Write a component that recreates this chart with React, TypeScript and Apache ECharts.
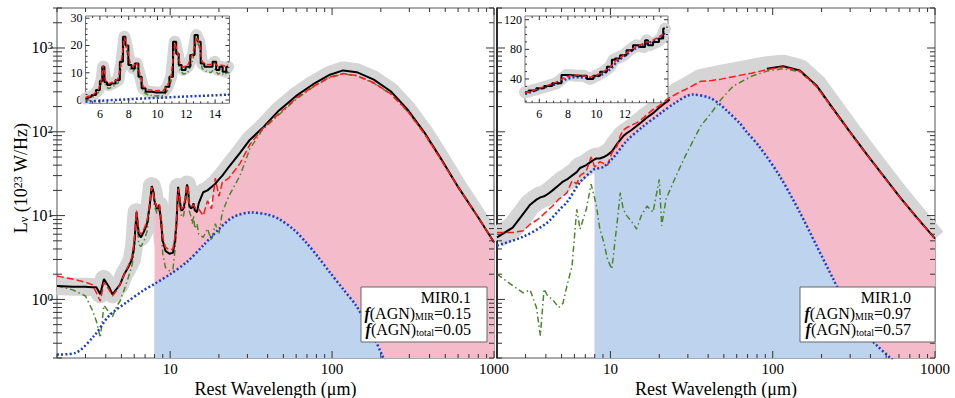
import React, { useEffect, useRef } from 'react';
import * as echarts from 'echarts';

const FONT = '"Liberation Serif", "Times New Roman", serif';

// ---------------- Left panel (MIR0.1) ----------------
const waveL = [2, 2.5, 3, 3.3, 3.5, 3.7, 3.9, 4.2, 4.4, 4.7,
  4.9, 5.2, 5.5, 5.8, 6.0, 6.2, 6.4, 6.6, 6.9, 7.2,
  7.5, 7.7, 7.9, 8.0, 8.3, 8.55, 8.8, 9.0, 9.35, 9.9,
  10.4, 10.7, 10.95, 11.2, 11.4, 11.6, 11.8, 12.1, 12.45, 12.7,
  12.9, 13.1, 13.4, 13.7, 13.95, 14.2, 14.65, 15, 16, 17,
  18, 19, 20, 21, 23, 27, 31, 37, 47, 60,
  76, 97, 117, 142, 181, 230, 292, 372, 473, 600, 800, 1000];
const obsL = [1.45, 1.42, 1.42, 1.4, 1.4, 1.15, 1.75, 1.4, 1.15, 1.35,
  1.5, 2.0, 2.4, 3.0, 4.5, 11, 6.0, 5.5, 6.5, 8,
  14, 22.5, 19, 15, 12, 13.4, 8.5, 5, 3.8, 3.5,
  3.6, 5, 8.5, 22, 17, 12.8, 11.5, 12.2, 16.5, 23.5,
  21, 13.4, 12.2, 12.5, 14, 11.5, 11, 14, 19, 20,
  22, 24, 27, 30, 38, 56, 80, 110, 180, 268,
  367, 480, 540, 515, 420, 305, 185, 98, 47, 22, 9.5, 4.8];
const modelL = [1.9, 1.75, 1.6, 1.5, 1.2, 0.95, 1.6, 1.3, 1.1, 1.3,
  1.5, 2.0, 2.5, 3.2, 5, 11.5, 6.5, 6.0, 7, 8.5,
  14.5, 22, 18, 15, 12.5, 13.8, 9.2, 5.5, 4.2, 3.9,
  4.0, 5.6, 9, 21, 17.5, 13.5, 12, 12.8, 17, 23,
  21, 14, 13, 13, 13.5, 12.5, 12.5, 12, 10, 15,
  12, 28, 17, 25, 28, 42, 70, 108, 165, 252,
  345, 450, 495, 470, 385, 285, 178, 95, 46, 22, 9.5, 4.8];
const sfL = [1.45, 1.3, 1.1, 0.75, 0.55, 0.35, 0.85, 0.7, 0.62, 0.85,
  0.95, 1.3, 1.8, 2.5, 3.8, 10, 4.5, 4.3, 5, 6.5,
  12.5, 21, 17, 13, 10.5, 12.3, 7.3, 3.5, 2.4, 2.2,
  2.3, 3.8, 7, 20, 16, 11, 9.5, 10, 14.5, 22,
  19.5, 11.5, 10, 8, 10, 7, 8, 6, 5.5, 7,
  5, 8, 6, 11, 17, 30, 62, 105, 160, 245,
  340, 445, 490, 465, 380, 282, 176, 94, 45.5, 21.8, 9.4, 4.75];
const agnWaveL = [2, 2.6, 3.4, 4.2, 5.4, 6.8, 8, 10, 12.6, 16, 20, 24.5, 31.7, 40, 47, 58, 69, 82, 97, 118, 141, 160, 179, 203, 230];
const agnL = [0.22, 0.23, 0.37, 0.64, 0.93, 1.27, 1.53, 2.0, 2.77, 4.4, 6.9, 9.6, 10.9, 10.3, 9.1, 6.8, 4.8, 3.2, 2.1, 1.3, 0.84, 0.55, 0.37, 0.22, 0.13];

// ---------------- Right panel (MIR1.0) ----------------
const waveR = [2, 2.5, 2.9, 3.2, 3.5, 3.7, 3.9, 4.1, 4.4, 4.8,
  5.1, 5.4, 5.8, 6.2, 6.5, 7.1, 7.6, 8.0, 8.2, 8.6,
  9.1, 9.6, 10.2, 11.0, 11.5, 12.0, 12.6, 13.5, 14.5, 15.5,
  16.8, 18.3, 20, 20.7, 22, 23.2, 26, 29, 36, 42,
  48, 57, 74, 92, 116, 147, 186, 236, 300, 381,
  481, 611, 776, 1000];
// centre of the grey uncertainty band
const bandR = [5.5, 7.2, 10.5, 13.5, 15.5, 16.5, 17, 18, 20, 23,
  25.5, 27, 30, 33, 37, 40, 44, 47, 48, 48,
  50, 53, 58, 72, 80, 89, 96, 105, 117, 130,
  148, 167, 195, 205, 225, 243, 290, 325, 415, 440,
  465, 495, 545, 590, 615, 545, 360, 190, 100, 54,
  30, 16.5, 9.5, 5.3];
// observed SED (black), absent between 26 and 74 micron
const obsR = [5.5, 7.2, 10.5, 13.5, 15.5, 16.5, 17, 18, 20, 23,
  25.5, 27, 30, 33, 37, 40, 44, 47, 48, 48,
  50, 53, 58, 72, 80, 89, 96, 105, 117, 130,
  148, 167, 195, 205, 225, 243, null, null, null, null,
  null, null, null, 565, 605, 540, 358, 188, 99, 53.5,
  29.8, 16.4, 9.4, 5.3];
const modelR = [6.3, 6.3, 6.6, 7.9, 8.8, 9.5, 10.5, 11.5, 13, 15.7,
  17, 18.8, 26, 24, 30, 34, 50, 38, 40, 44,
  42, 40, 56, 68, 90, 105, 112, 120, 128, 140,
  160, 185, 205, 215, 240, 255, 290, 320, 400, 410,
  425, 455, 500, 552, 595, 530, 350, 185, 98, 53,
  29.5, 16.3, 9.3, 5.3];
const sfR = [2.0, 1.46, 1.2, 1.3, 0.8, 0.37, 1.33, 1.1, 1.0, 0.8,
  0.9, 1.46, 2.5, 11.9, 6.9, 11.9, 23.7, 16, 13, 7,
  4.8, 3.0, 2.3, 8.3, 18.8, 11.9, 10, 8.5, 6.9, 10,
  13, 11, 27, 7.6, 15.7, 20, 33, 52, 117, 170,
  243, 350, 460, 530, 565, 520, 345, 183, 97, 53,
  29.5, 16.3, 9.3, 5.3];
const agnWaveR = [2, 2.9, 4.0, 4.9, 5.4, 6.5, 7.8, 8.0, 9.0, 10.4, 12.6, 16, 20, 25, 32, 41, 47.6, 52, 63, 69, 83, 110, 147, 186, 236, 300, 345, 440, 531, 620];
const agnR = [4.4, 5.6, 8.0, 12, 14.5, 25, 35, 36, 38, 49, 78, 117, 162, 221, 278, 254, 210, 180, 125, 100, 66, 30, 10.9, 4.4, 1.75, 0.7, 0.45, 0.28, 0.2, 0.15];

// ---------------- Insets (5-15 micron, linear) ----------------
const insetWaveL = [5.0, 5.3, 5.55, 5.9, 6.1, 6.23, 6.4, 6.6, 6.9, 7.27,
  7.5, 7.7, 7.85, 8.1, 8.3, 8.55, 8.8, 9.0, 9.35, 9.9,
  10.4, 10.7, 10.95, 11.2, 11.4, 11.55, 11.8, 12.1, 12.45, 12.7,
  12.9, 13.1, 13.4, 13.7, 13.95, 14.2, 14.4, 14.65, 14.9];
const insetObsL = [0.6, 1.2, 1.8, 3.7, 7, 12.2, 6.5, 5.5, 6.1, 7.3,
  14, 23.2, 20, 12.8, 11.6, 13.4, 8.5, 4.3, 3.0, 2.8,
  2.8, 4.9, 8.5, 21.4, 17, 12.8, 11, 12.2, 16.5, 23.8,
  21.4, 13.4, 12.2, 12.2, 14, 11, 12.2, 10.4, 12.2];
const insetModelL = [0.9, 1.4, 2.0, 3.9, 7.5, 12.8, 7.0, 6.0, 6.6, 7.8,
  14.5, 23, 20.5, 13.5, 12.3, 13.8, 9.2, 5.0, 3.8, 3.4,
  3.5, 5.4, 9.0, 21, 17.5, 13.5, 12, 12.8, 17, 23,
  21, 14, 13, 13, 13.5, 12.5, 12.8, 12.5, 13];
const insetSfL = [0.3, 0.8, 1.2, 2.8, 6, 11, 5.0, 4.2, 4.8, 6.3,
  12.5, 22, 18.5, 11.5, 10.5, 12.3, 7.3, 3.0, 1.8, 1.5,
  1.6, 3.5, 7.0, 20, 16, 11, 9.5, 10, 14.5, 22,
  19.5, 11.5, 10.5, 10, 11.5, 9.5, 10, 9.2, 10.5];
const insetAgnWaveL = [5, 6, 7, 8, 9, 10, 11, 12, 13, 14, 15];
const insetAgnL = [-0.6, -0.3, 0.0, 0.3, 0.55, 0.8, 1.05, 1.3, 1.5, 1.75, 2.0];

const insetWaveR = [5.0, 5.5, 6.07, 6.6, 7.2, 7.9, 8.3, 8.6, 9.1, 9.55, 10.0, 10.5, 10.95, 11.2, 11.4, 11.9, 12.3, 12.8, 13.3, 13.5, 13.7, 14.2, 14.55, 14.78];
const insetObsR = [22, 24.5, 27.5, 30.5, 34.2, 45.3, 45, 44.4, 44.4, 40, 44.4, 49.8, 56.5, 66, 67.7, 72.1, 78.8, 85.5, 83.3, 92.3, 85.5, 90, 94.5, 108];
const insetModelR = [21, 24, 28, 31.5, 36, 43, 45, 45.5, 44, 42.5, 45, 50, 56, 61, 66, 72, 78, 84, 88, 90, 90, 95, 99, 104];
const insetAgnR = [20, 23, 27, 30, 33, 40, 42, 42.5, 42, 41, 43, 47, 53, 58, 63, 70, 76, 82, 86, 88, 89, 93, 97, 102];

// ---------------- Ticks & labels ----------------
const xTickLabels = [10, 100, 1000];
const yTickLabels = [1, 10, 100, 1000];
const xMajorTicks = [10, 100, 1000];
const xMinorTicks = [2, 3, 4, 5, 6, 7, 8, 9, 20, 30, 40, 50, 60, 70, 80, 90, 200, 300, 400, 500, 600, 700, 800, 900];
const yMajorTicks = [1, 10, 100, 1000];
const yMinorTicks = [0.2, 0.3, 0.4, 0.5, 0.6, 0.7, 0.8, 0.9, 2, 3, 4, 5, 6, 7, 8, 9, 20, 30, 40, 50, 60, 70, 80, 90, 200, 300, 400, 500, 600, 700, 800, 900, 2000, 3000];
const insetXLabelsL = [6, 8, 10, 12, 14];
const insetXLabelsR = [6, 8, 10, 12];
const insetXMajor = [6, 8, 10, 12, 14];
const insetXMinor = [5.5, 6.5, 7, 7.5, 8.5, 9, 9.5, 10.5, 11, 11.5, 12.5, 13, 13.5, 14.5];
const insetYLabelsL = [0, 10, 20, 30];
const insetYMinorL = [2, 4, 6, 8, 12, 14, 16, 18, 22, 24, 26, 28];
const insetYLabelsR = [40, 80, 120];
const insetYMinorR = [10, 20, 30, 50, 60, 70, 90, 100, 110];

const GRAY = '#d5d5d5';
const PINK = '#f4bccb';
const BLUEF = '#bed3ee';
const RED = '#ff1a1a';
const GREEN = '#4d862a';
const BLUE = '#1f3dbf';
const TICK = '#333';

const pairs = (xs: number[], ys: (number | null)[], from = -Infinity) =>
  xs.map((x, i) => [x, ys[i]]).filter((p) => (p[0] as number) >= from);

function line(idx: number, data: any[], color: string, width: number, type: any, z: number, extra: any = {}) {
  return {
    type: 'line', xAxisIndex: idx, yAxisIndex: idx, data, symbol: 'none', showSymbol: false, silent: true,
    connectNulls: false, lineStyle: { color, width, type }, z, ...extra,
  };
}
function area(idx: number, data: any[], color: string, z: number, extra: any = {}) {
  return {
    type: 'line', xAxisIndex: idx, yAxisIndex: idx, data, symbol: 'none', showSymbol: false, silent: true,
    lineStyle: { width: 0, opacity: 0 }, areaStyle: { color, opacity: 1, origin: 'start' }, z, ...extra,
  };
}
function ticks(idx: number, values: number[], dir: 'x' | 'y', anchor: number, inLen: number, outLen: number) {
  return {
    type: 'custom', coordinateSystem: 'cartesian2d', xAxisIndex: idx, yAxisIndex: idx, silent: true, z: 20,
    data: values.map((v) => (dir === 'x' ? [v, anchor] : [anchor, v])),
    renderItem: (params: any, api: any) => {
      const cs = params.coordSys;
      const p = api.coord([api.value(0), api.value(1)]);
      const st = { stroke: TICK, lineWidth: 1 };
      if (dir === 'x') {
        const x = p[0];
        const yb = cs.y + cs.height;
        const yt = cs.y;
        return {
          type: 'group', children: [
            { type: 'line', shape: { x1: x, y1: yb, x2: x, y2: yb - inLen }, style: st },
            { type: 'line', shape: { x1: x, y1: yt, x2: x, y2: yt + inLen }, style: st },
          ],
        };
      }
      const y = p[1];
      const xl = cs.x;
      const xr = cs.x + cs.width;
      return {
        type: 'group', children: [
          { type: 'line', shape: { x1: xl - outLen, y1: y, x2: xl + inLen, y2: y }, style: st },
          { type: 'line', shape: { x1: xr - inLen, y1: y, x2: xr, y2: y }, style: st },
        ],
      };
    },
  };
}

function mainPanel(idx: number, wave: number[], band: number[], obs: (number | null)[], model: number[], sf: number[], agnWave: number[], agn: number[], grayWidth: number, yOut: [number, number]) {
  return [
    line(idx, pairs(wave, band), GRAY, grayWidth, 'solid', 1, { lineStyle: { color: GRAY, width: grayWidth, cap: 'butt', join: 'round' } }),
    area(idx, pairs(wave, model, 8), PINK, 2),
    area(idx, pairs(agnWave, agn, 8), BLUEF, 3, { smooth: 0.3 }),
    line(idx, pairs(wave, sf), GREEN, 1.5, [6, 3, 1.5, 3], 4),
    line(idx, pairs(wave, obs), '#000', 2, 'solid', 5),
    line(idx, pairs(wave, model), RED, 1.5, [7, 3], 6),
    line(idx, pairs(agnWave, agn), BLUE, 2.5, [2, 2.2], 7, { smooth: 0.3 }),
    ticks(idx, xMajorTicks, 'x', 1, 7, 0),
    ticks(idx, xMinorTicks, 'x', 1, 4, 0),
    ticks(idx, yMajorTicks, 'y', 10, 8, yOut[0]),
    ticks(idx, yMinorTicks, 'y', 10, 5, yOut[1]),
  ];
}

function insetPanel(idx: number, wave: number[], obs: number[], model: number[], sf: number[] | null, agnWave: number[], agn: number[], yMajor: number[], yMinor: number[]) {
  const s: any[] = [
    line(idx, pairs(wave, obs), GRAY, 12, 'solid', 11, { lineStyle: { color: GRAY, width: 12, cap: 'round', join: 'round' } }),
    line(idx, pairs(agnWave, agn), BLUE, 2.5, [2, 2.2], 12),
  ];
  if (sf) s.push(line(idx, pairs(wave, sf), GREEN, 1.5, [5, 2.5, 1.2, 2.5], 13));
  s.push(line(idx, pairs(wave, obs), '#000', 2, 'solid', 14, { step: 'middle' }));
  s.push(line(idx, pairs(wave, model), RED, 1.5, [5, 2.5], 15));
  s.push(ticks(idx, insetXMajor, 'x', yMajor[0], 4, 0));
  s.push(ticks(idx, insetXMinor, 'x', yMajor[0], 2, 0));
  s.push(ticks(idx, yMajor, 'y', 10, 4, 0));
  s.push(ticks(idx, yMinor, 'y', 10, 2, 0));
  return s;
}

function buildOption(): any {
  const baseGrid = { show: true, backgroundColor: 'transparent', borderColor: '#555', borderWidth: 1, containLabel: false, outerBoundsMode: 'none' };
  const labelBase = { fontFamily: FONT, color: '#000' };
  const mainX = (idx: number) => ({
    type: 'log', logBase: 10, gridIndex: idx, min: 2, max: 1000,
    axisLine: { show: false }, axisTick: { show: false }, splitLine: { show: false }, minorTick: { show: false },
    axisLabel: { ...labelBase, fontSize: 15, lineHeight: 12, margin: 5, customValues: xTickLabels, formatter: (v: number) => String(Math.round(v)) },
  });
  const mainY = (idx: number, showLabels: boolean, lineShow: boolean) => ({
    type: 'log', logBase: 10, gridIndex: idx, min: 0.2, max: 3000,
    axisLine: { show: lineShow, lineStyle: { color: '#000', width: 1.5 } }, axisTick: { show: false }, splitLine: { show: false },
    axisLabel: {
      show: showLabels, ...labelBase, fontSize: 16, margin: 4, customValues: yTickLabels,
      formatter: (v: number) => `{b|10}{s|${Math.round(Math.log10(v))}}`,
      rich: {
        b: { fontSize: 16, fontFamily: FONT, lineHeight: 16, color: '#000' },
        s: { fontSize: 11, fontFamily: FONT, lineHeight: 8, verticalAlign: 'top', color: '#000' },
      },
    },
  });
  const insetX = (idx: number, labels: number[]) => ({
    type: 'value', gridIndex: idx, min: 5, max: 15,
    axisLine: { show: false }, axisTick: { show: false }, splitLine: { show: false },
    axisLabel: { ...labelBase, fontSize: 12, margin: 5, customValues: labels },
  });
  const insetY = (idx: number, min: number, max: number, labels: number[]) => ({
    type: 'value', gridIndex: idx, min, max,
    axisLine: { show: false }, axisTick: { show: false }, splitLine: { show: false },
    axisLabel: { ...labelBase, fontSize: 12, margin: 3, customValues: labels },
  });

  const legendRich = {
    n: { fontSize: 16, fontFamily: FONT, lineHeight: 16, color: '#000' },
    i: { fontSize: 16, fontFamily: FONT, lineHeight: 16, fontStyle: 'italic', fontWeight: 'bold', color: '#000' },
    s: { fontSize: 10, fontFamily: FONT, lineHeight: 6, verticalAlign: 'bottom', color: '#000' },
  };
  const legendText = (name: string, mir: string, tot: string) =>
    `{n|${name}}\n{i|f}{n|(AGN)}{s|MIR}{n|=${mir}}\n{i|f}{n|(AGN)}{s|total}{n|=${tot}}`;

  return {
    animation: false,
    backgroundColor: '#fff',
    textStyle: { fontFamily: FONT },
    grid: [
      { ...baseGrid, left: 57, top: 8, width: 437, height: 350 },
      { ...baseGrid, left: 497, top: 8, width: 438, height: 350 },
      { ...baseGrid, left: 85.5, top: 16, width: 144, height: 87.3, backgroundColor: '#fff', borderColor: '#777', z: 5 },
      { ...baseGrid, left: 525, top: 16, width: 143, height: 86.7, backgroundColor: '#fff', borderColor: '#777', z: 5 },
    ],
    xAxis: [mainX(0), mainX(1), insetX(2, insetXLabelsL), insetX(3, insetXLabelsR)],
    yAxis: [mainY(0, true, false), mainY(1, false, true), insetY(2, -1.2, 30.8, insetYLabelsL), insetY(3, 8, 125, insetYLabelsR)],
    series: [
      ...mainPanel(0, waveL, obsL, obsL, modelL, sfL, agnWaveL, agnL, 18, [7, 4]),
      ...mainPanel(1, waveR, bandR, obsR, modelR, sfR, agnWaveR, agnR, 22, [0, 0]),
      ...insetPanel(2, insetWaveL, insetObsL, insetModelL, insetSfL, insetAgnWaveL, insetAgnL, insetYLabelsL, insetYMinorL),
      ...insetPanel(3, insetWaveR, insetObsR, insetModelR, null, insetWaveR, insetAgnR, insetYLabelsR, insetYMinorR),
    ],
    graphic: [
      { type: 'rect', z: 100, shape: { x: 361, y: 287, width: 126, height: 55 }, style: { fill: '#fff', stroke: '#666', lineWidth: 1 } },
      { type: 'text', z: 101, x: 471, y: 289, style: { text: legendText('MIR0.1', '0.15', '0.05'), align: 'right', verticalAlign: 'top', rich: legendRich, fontSize: 16, fontFamily: FONT, lineHeight: 16, fill: '#000' } },
      { type: 'rect', z: 100, shape: { x: 800, y: 287, width: 135, height: 55 }, style: { fill: '#fff', stroke: '#666', lineWidth: 1 } },
      { type: 'text', z: 101, x: 911, y: 289, style: { text: legendText('MIR1.0', '0.97', '0.57'), align: 'right', verticalAlign: 'top', rich: legendRich, fontSize: 16, fontFamily: FONT, lineHeight: 16, fill: '#000' } },
      {
        type: 'text', z: 101, x: 21, y: 178, rotation: Math.PI / 2,
        style: {
          text: '{n|L}{sub|ν}{n| (10}{sup|23}{n| W/Hz)}', align: 'center', verticalAlign: 'middle', fill: '#000',
          fontSize: 18, fontFamily: FONT,
          rich: {
            n: { fontSize: 18, fontFamily: FONT, lineHeight: 18, color: '#000' },
            sub: { fontSize: 12, fontFamily: FONT, lineHeight: 6, verticalAlign: 'bottom', color: '#000' },
            sup: { fontSize: 12, fontFamily: FONT, lineHeight: 8, verticalAlign: 'top', color: '#000' },
          },
        },
      },
      { type: 'text', z: 101, x: 275.5, y: 389, style: { text: 'Rest Wavelength (μm)', align: 'center', verticalAlign: 'middle', fontSize: 18, lineHeight: 16, fontFamily: FONT, fill: '#000' } },
      { type: 'text', z: 101, x: 716, y: 389, style: { text: 'Rest Wavelength (μm)', align: 'center', verticalAlign: 'middle', fontSize: 18, lineHeight: 16, fontFamily: FONT, fill: '#000' } },
    ],
  };
}

export default function App() {
  const ref = useRef<HTMLDivElement>(null);
  useEffect(() => {
    if (!ref.current) return;
    const chart = echarts.init(ref.current, null, { renderer: 'svg' });
    chart.setOption(buildOption());
    return () => chart.dispose();
  }, []);
  return <div ref={ref} style={{ position: 'fixed', left: 0, top: 0, width: 955, height: 398, background: '#fff' }} />;
}
